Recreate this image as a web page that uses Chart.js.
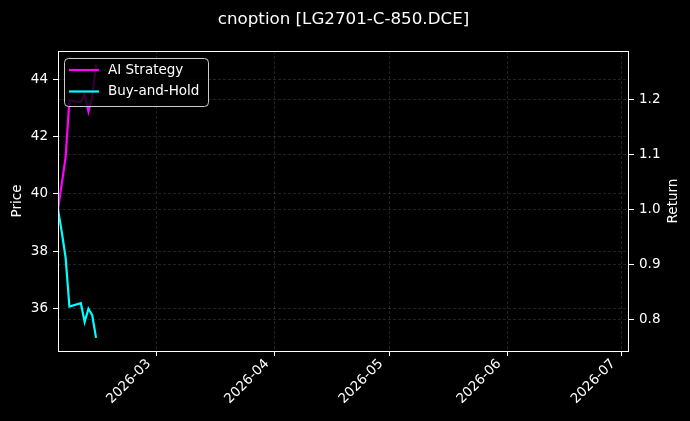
<!DOCTYPE html>
<html>
<head>
<meta charset="utf-8">
<title>cnoption [LG2701-C-850.DCE]</title>
<script src="https://cdn.jsdelivr.net/npm/chart.js@4.4.1/dist/chart.umd.min.js"></script>
<style>
  html, body { margin: 0; padding: 0; background: #000; }
</style>
</head>
<body>
<canvas id="chart" width="690" height="421"></canvas>
<script>
// chart data
const chartTitle = 'cnoption [LG2701-C-850.DCE]';
const dates = ['2026-02-03', '2026-02-04', '2026-02-05', '2026-02-06', '2026-02-09',
               '2026-02-10', '2026-02-11', '2026-02-12', '2026-02-13'];
const aiStrategy = [1.000, 1.047, 1.095, 1.198, 1.195, 1.210, 1.178, 1.205, 1.263];
const buyAndHold = [1.000, 0.958, 0.912, 0.823, 0.829, 0.795, 0.819, 0.807, 0.766];
const xTickLabels = ['2026-03', '2026-04', '2026-05', '2026-06', '2026-07'];
const priceTicks = [36, 38, 40, 42, 44];
const returnTicks = [0.8, 0.9, 1.0, 1.1, 1.2];
const xRange = ['2026-02-03', '2026-07-03'];
const priceRange = [34.5, 45.0];
const returnRange = [0.742, 1.288];

function toDay(s) {
    const [y, m, d] = s.split('-').map(Number);
    return Date.UTC(y, m - 1, d) / 86400000;
}

Chart.defaults.font.family = 'DejaVu Sans';
Chart.defaults.font.size = 13.5;
Chart.defaults.color = '#ffffff';

const gridColor = 'rgba(255, 255, 255, 0.22)';

// frame, titles and legend drawn on top of the chart area
const decorations = {
    id: 'decorations',
    afterDatasetsDraw(chart) {
        const { ctx, chartArea: a } = chart;
        ctx.save();
        ctx.strokeStyle = '#ffffff';
        ctx.lineWidth = 1;
        ctx.strokeRect(a.left + 0.5, a.top + 0.5, a.right - a.left - 1, a.bottom - a.top);

        ctx.fillStyle = '#ffffff';
        ctx.textAlign = 'center';
        ctx.textBaseline = 'middle';
        ctx.font = '16.7px "DejaVu Sans"';
        ctx.fillText(chartTitle, (a.left + a.right) / 2, 20);

        ctx.font = '13.5px "DejaVu Sans"';
        const midY = (a.top + a.bottom) / 2;
        ctx.save();
        ctx.translate(17, midY);
        ctx.rotate(-Math.PI / 2);
        ctx.fillText('Price', 0, 0);
        ctx.restore();
        ctx.save();
        ctx.translate(673, midY);
        ctx.rotate(-Math.PI / 2);
        ctx.fillText('Return', 0, 0);
        ctx.restore();

        // legend box (upper left)
        const bx = a.left + 6, by = a.top + 7, bw = 144, bh = 48;
        ctx.beginPath();
        ctx.roundRect(bx + 0.5, by + 0.5, bw, bh, 4);
        ctx.fillStyle = 'rgba(0, 0, 0, 0.8)';
        ctx.fill();
        ctx.strokeStyle = '#cccccc';
        ctx.stroke();
        ctx.textAlign = 'left';
        chart.data.datasets.forEach((ds, i) => {
            const y = by + 12 + i * 21.5;
            ctx.strokeStyle = ds.borderColor;
            ctx.lineWidth = 2.2;
            ctx.beginPath();
            ctx.moveTo(bx + 5, y);
            ctx.lineTo(bx + 35, y);
            ctx.stroke();
            ctx.fillStyle = '#ffffff';
            ctx.fillText(ds.label, bx + 44, y);
        });
        ctx.restore();
    }
};

const ctx = document.getElementById('chart').getContext('2d');
const chart = new Chart(ctx, {
    type: 'line',
    data: {
        datasets: [{
            label: 'AI Strategy',
            data: dates.map((d, i) => ({ x: toDay(d), y: aiStrategy[i] })),
            borderColor: '#ff00ff',
            borderWidth: 2.2,
            pointRadius: 0,
            tension: 0,
            yAxisID: 'yReturn'
        }, {
            label: 'Buy-and-Hold',
            data: dates.map((d, i) => ({ x: toDay(d), y: buyAndHold[i] })),
            borderColor: '#00ffff',
            borderWidth: 2.2,
            pointRadius: 0,
            tension: 0,
            yAxisID: 'yReturn'
        }]
    },
    options: {
        responsive: false,
        animation: false,
        layout: { padding: { top: 51, left: 0, right: 0, bottom: 0 } },
        plugins: {
            legend: { display: false },
            title: { display: false },
            tooltip: { enabled: false }
        },
        scales: {
            x: {
                type: 'linear',
                min: toDay(xRange[0]),
                max: toDay(xRange[1]),
                afterBuildTicks: axis => {
                    axis.ticks = xTickLabels.map(l => ({ value: toDay(l + '-01') }));
                },
                afterFit: axis => { axis.height = 70; axis.paddingLeft = 0; axis.paddingRight = 0; },
                ticks: {
                    autoSkip: false,
                    minRotation: 45,
                    maxRotation: 45,
                    padding: 0,
                    labelOffset: -8,
                    callback: (v, i) => xTickLabels[i]
                },
                grid: { color: gridColor, lineWidth: 0.6, tickColor: '#ffffff', tickLength: 5, tickWidth: 1 },
                border: { display: false, dash: [3, 2] }
            },
            yPrice: {
                type: 'linear',
                position: 'left',
                min: priceRange[0],
                max: priceRange[1],
                afterBuildTicks: axis => { axis.ticks = priceTicks.map(v => ({ value: v })); },
                afterFit: axis => { axis.width = 58; },
                ticks: { padding: 5, callback: v => String(v) },
                grid: { color: gridColor, lineWidth: 0.6, tickColor: '#ffffff', tickLength: 5, tickWidth: 1 },
                border: { display: false, dash: [3, 2] }
            },
            yReturn: {
                type: 'linear',
                position: 'right',
                min: returnRange[0],
                max: returnRange[1],
                afterBuildTicks: axis => { axis.ticks = returnTicks.map(v => ({ value: v })); },
                afterFit: axis => { axis.width = 61; },
                ticks: { padding: 5, callback: v => v.toFixed(1) },
                grid: { color: gridColor, lineWidth: 0.6, tickColor: '#ffffff', tickLength: 5, tickWidth: 1 },
                border: { display: false, dash: [3, 2] }
            }
        }
    },
    plugins: [decorations]
});
</script>
</body>
</html>
